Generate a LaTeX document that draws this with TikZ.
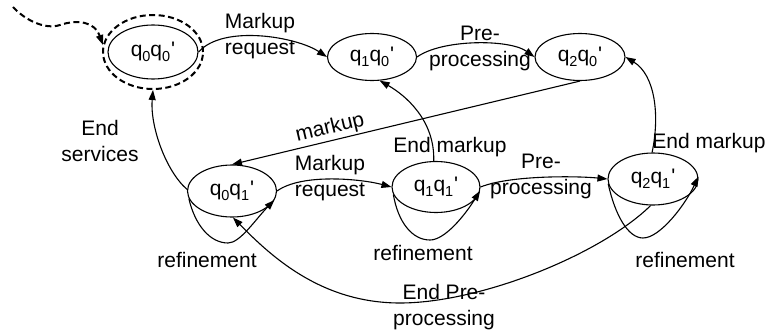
\documentclass[tikz,border=0pt]{standalone}
\usepackage{fontspec}
\setmainfont{Liberation Sans}
\usetikzlibrary{shapes.geometric,arrows.meta}

% lowered index digit used in the state names
\newcommand\lowidx[1]{\raisebox{-5.5pt}{\fontsize{14.5}{14.5}\selectfont#1}}
\newcommand\stname[2]{q\lowidx{#1}q\lowidx{#2}\kern1pt\textquotesingle}

\begin{document}
\begin{tikzpicture}[x=1pt,y=-1pt,
  every node/.style={font=\fontsize{21}{26}\selectfont},
  state/.style={ellipse,draw,line width=1.1pt,inner sep=0pt},
  edge/.style={line width=1.1pt,-{Triangle[length=10pt,width=7pt]}},
  lbl/.style={align=center,inner sep=0pt},
  dashline/.style={line width=2pt,dash pattern=on 6pt off 3.5pt}
]
\useasboundingbox (0,0) rectangle (770,334);

% states
\node[state,minimum width=90pt,minimum height=54pt] (A) at (153,52) {\stname{0}{0}};
\node[ellipse,draw,dashline,minimum width=100pt,minimum height=74pt] (A0) at (153,52) {};
\node[state,minimum width=89pt,minimum height=47pt] (B) at (372,57) {\stname{1}{0}};
\node[state,minimum width=90pt,minimum height=47pt] (C) at (580,57) {\stname{2}{0}};
\node[state,minimum width=89pt,minimum height=52pt] (D) at (232,191) {\stname{0}{1}};
\node[state,minimum width=88pt,minimum height=51pt] (E) at (436,187) {\stname{1}{1}};
\node[state,minimum width=90pt,minimum height=52pt] (F) at (653,179) {\stname{2}{1}};

% initial arrow
\coordinate (S) at (13,7);
\draw[dashline,-{Triangle[length=10pt,width=7pt]}] (S) .. controls (25,20) and (45,30) .. (60,25)
  .. controls (78,19) and (95,22) .. (A0.172);

% transitions
\draw[edge] (A.east) .. controls +(25,-28) and +(-30,-20) .. (B.west);
\draw[edge] (B.east) .. controls +(25,-18) and +(-25,-18) .. (C.west);
\draw[edge] (C.south) -- node[pos=0.71,sloped,above,inner sep=2pt] {markup} (D.north);
\draw[edge] (D.178) .. controls (165,170) and (150,125) .. (A0.-90);
\draw[edge] (D.east) .. controls +(25,-18) and +(-30,-8) .. (E.west);
\draw[edge] (E.east) .. controls +(30,-12) and +(-30,-3) .. (F.west);
\draw[edge] (E.95) .. controls (435,120) and (405,95) .. (B.-72);
\draw[edge] (F.92) .. controls (660,115) and (655,75) .. (C.east);
\draw[edge] (F.-95) .. controls (600,255) and (480,303) .. (400,303)
  .. controls (320,303) and (270,255) .. (D.-88);

% self loops
\draw[edge] (D.190) .. controls (195,225) and (210,243) .. (228,243)
  .. controls (240,243) and (255,220) .. (D.-12);
\draw[edge] (E.190) .. controls (398,222) and (412,240) .. (430,240)
  .. controls (445,240) and (465,215) .. (E.-5);
\draw[edge] (F.186) .. controls (615,215) and (628,238) .. (643,238)
  .. controls (660,238) and (685,205) .. (F.3);

% labels
\node[lbl] (l1) at (260,36) {Markup\\request};
\node[lbl] (l2) at (480,48) {Pre-\\processing};
\node[lbl] (l3) at (100,141) {End\\services};
\node[lbl] (l4) at (330,178) {Markup\\request};
\node[lbl] (l5) at (541,176) {Pre-\\processing};
\node[lbl] (l6) at (450,147) {End markup};
\node[lbl] (l7) at (709,143) {End markup};
\node[lbl] (l8) at (207,260) {refinement};
\node[lbl] (l9) at (423,253) {refinement};
\node[lbl] (l10) at (685,260) {refinement};
\node[lbl] (l11) at (444,307) {End Pre-\\processing};
\end{tikzpicture}
\end{document}
